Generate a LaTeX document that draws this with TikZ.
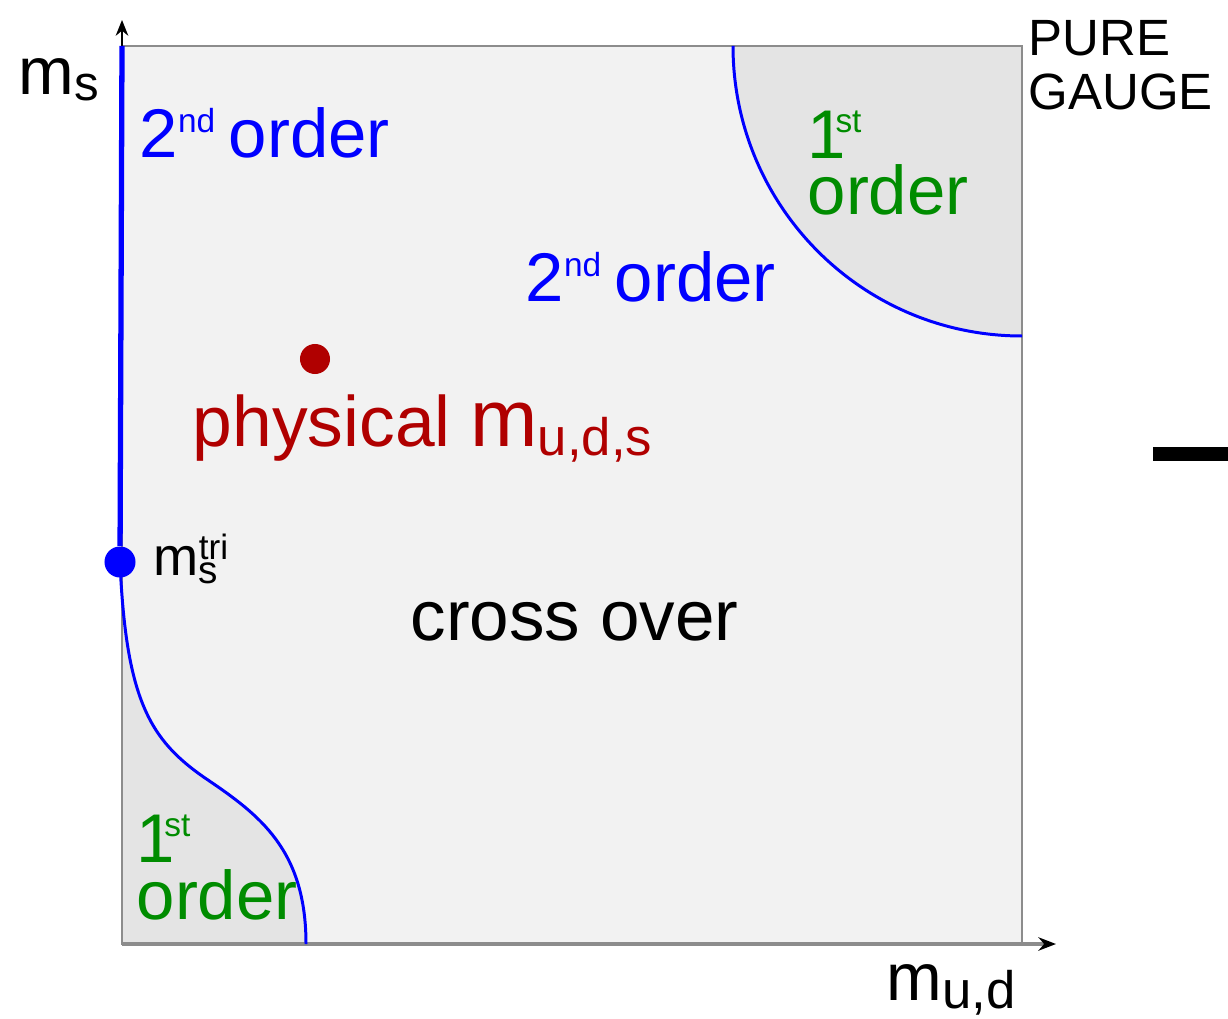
\documentclass[tikz,border=0pt]{standalone}
\usepackage{fontspec}
\setmainfont{Liberation Sans}
\usetikzlibrary{arrows.meta}
\definecolor{PhaseBlue}{HTML}{0000FF}
\definecolor{PhaseGreen}{HTML}{008C00}
\definecolor{PhaseRed}{HTML}{B00000}
\definecolor{PhaseFill}{HTML}{F2F2F2}
\definecolor{PhaseShade}{HTML}{E4E4E4}
\definecolor{PhaseFrame}{HTML}{8C8C8C}
\newcommand{\ordsup}[1]{\raisebox{7.3pt}{\fontsize{9.5}{9.5}\selectfont #1}}
\newcommand{\lowsub}[3][14]{\raisebox{-#2}{\fontsize{#1}{#1}\selectfont #3}}

\begin{document}
\begin{tikzpicture}[x=0.01cm,y=-0.01cm,>=Stealth,
    label/.style={inner sep=0pt,anchor=base west,font=\fontsize{19.6}{16.2}\selectfont,align=left},
    dot/.style={circle,inner sep=0pt,minimum size=0.31cm}]
  \useasboundingbox (0,0) rectangle (1228,1019);
  \coordinate (origin) at (122,944);
  \coordinate (xend) at (1056,944);
  \coordinate (yend) at (122,20);
  \coordinate (top) at (122,46);
  \coordinate (arcstart) at (733,46);
  \coordinate (arcend) at (1022,336);
  \coordinate (lowend) at (306,944);
  % regions
  \fill[PhaseFill] (top) rectangle (1022,944);
  \fill[PhaseShade] (arcstart) .. controls (733,206) and (862,336) .. (arcend)
    -- (1022,46) -- cycle;
  \fill[PhaseShade] (122,562) .. controls (126,700) and (150,740) .. (205,778)
    .. controls (260,815) and (306,850) .. (lowend) -- (origin) -- cycle;
  \draw[PhaseFrame,line width=0.6pt] (top) rectangle (1022,944);
  % axes
  \draw[PhaseFrame,line width=0.9pt,-{Stealth[black,length=5pt,width=3.8pt]}] (origin) -- (xend);
  \draw[black,line width=0.5pt,-{Stealth[length=4.5pt,width=3.6pt]}] (top) -- (yend);
  % transition lines
  \node[dot,fill=PhaseBlue] (tri) at (120,562) {};
  \node[dot,fill=PhaseRed,minimum size=0.3cm] (phys) at (315,359) {};
  \draw[PhaseBlue,line width=1.5pt] (tri) -- (top);
  \draw[PhaseBlue,line width=0.85pt] (tri.center) .. controls (126,700) and (150,740) .. (205,778)
    .. controls (260,815) and (306,850) .. (lowend);
  \draw[PhaseBlue,line width=0.85pt] (arcstart) .. controls (733,206) and (862,336) .. (arcend);
  \fill[black] (1153,447) rectangle (1228,461);
  % labels
  \node[label,font=\fontsize{19}{19}\selectfont] (mslabel) at (18,95) {m\lowsub{1.5pt}{s}};
  \node[label,font=\fontsize{19}{19}\selectfont] (mudlabel) at (886,1000) {m\lowsub[15]{2.3pt}{u,d}};
  \node[label,font=\fontsize{14.5}{15.6}\selectfont] (gauge) at (1028,110) {PURE\\GAUGE};
  \node[label,PhaseBlue] (secondtop) at (139,158) {2\ordsup{nd}\hspace{0.2em}order};
  \node[label,PhaseBlue] (secondmid) at (525,302) {2\ordsup{nd}\hspace{0.2em}order};
  \node[label,PhaseGreen] (firsttop) at (807,215) {1\hspace{-3pt}\ordsup{st}\\order};
  \node[label,PhaseGreen] (firstlow) at (136,919) {1\hspace{-3pt}\ordsup{st}\\order};
  \node[label,PhaseRed,font=\fontsize{20.3}{20.3}\selectfont] (physlabel) at (192,447)
    {physical {\fontsize{23}{23}\selectfont m}\lowsub[15]{2.4pt}{u,d,s}};
  \node[label,font=\fontsize{15.4}{15.4}\selectfont] (trilabel) at (153,575)
    {m\rlap{\raisebox{4.3pt}{\fontsize{10}{10}\selectfont tri}}\raisebox{-2.3pt}{\fontsize{11}{11}\selectfont s}};
  \node[label,font=\fontsize{20.2}{20.2}\selectfont] (cross) at (410,640) {cross over};
\end{tikzpicture}
\end{document}
